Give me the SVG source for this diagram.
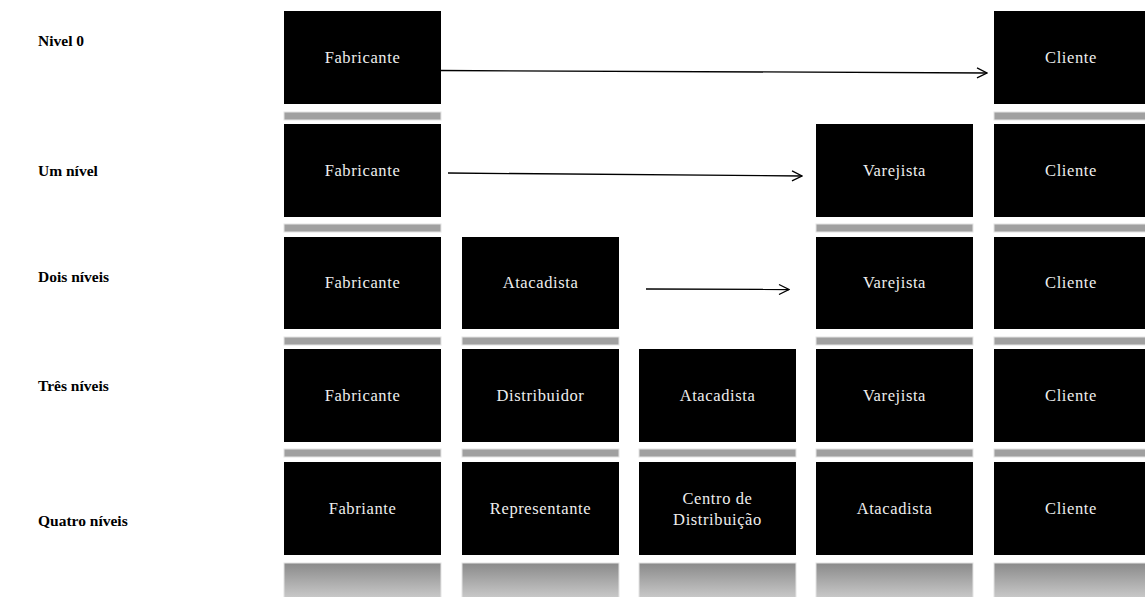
<svg xmlns="http://www.w3.org/2000/svg" width="1145" height="597" viewBox="0 0 1145 597">
  <style>
    .box { fill: #000000; }
    .bar { fill: #a0a0a0; stroke: #e4e4e4; stroke-width: 1; }
    .refl { fill: url(#fade); stroke: #e4e4e4; stroke-width: 1; }
    .t { font-family: "Liberation Serif", "Times New Roman", serif; font-size: 16.5px; letter-spacing: 0.6px; fill: #eeeeee; text-anchor: middle; }
    .lbl { font-family: "Liberation Serif", "Times New Roman", serif; font-size: 15.5px; font-weight: bold; fill: #000000; }
    .link { stroke: #000000; stroke-width: 1.3; fill: none; marker-end: url(#chev); }
  </style>
  <defs>
    <linearGradient id="fade" x1="0" y1="0" x2="0" y2="1">
      <stop offset="0" stop-color="#8a8a8a"/>
      <stop offset="1" stop-color="#d2d2d2"/>
    </linearGradient>
    <marker id="chev" viewBox="0 0 12 12" refX="11" refY="6" markerWidth="12" markerHeight="12" markerUnits="userSpaceOnUse" orient="auto">
      <path d="M1,1 L11,6 L1,11" fill="none" stroke="#000000" stroke-width="1.3"/>
    </marker>
  </defs>

  <rect width="1145" height="597" fill="#ffffff"/>

  <!-- row labels -->
  <g id="labels">
    <text class="lbl" x="38" y="46">Nivel 0</text>
    <text class="lbl" x="38" y="176">Um nível</text>
    <text class="lbl" x="38" y="282">Dois níveis</text>
    <text class="lbl" x="38" y="391">Três níveis</text>
    <text class="lbl" x="38" y="526">Quatro níveis</text>
  </g>

  <!-- shelf bars under each box -->
  <g id="bars">
    <rect class="bar" x="284" y="112" width="157" height="8"/>
    <rect class="bar" x="994" y="112" width="152" height="8"/>

    <rect class="bar" x="284" y="224" width="157" height="8"/>
    <rect class="bar" x="816" y="224" width="157" height="8"/>
    <rect class="bar" x="994" y="224" width="152" height="8"/>

    <rect class="bar" x="284" y="337" width="157" height="8"/>
    <rect class="bar" x="462" y="337" width="157" height="8"/>
    <rect class="bar" x="816" y="337" width="157" height="8"/>
    <rect class="bar" x="994" y="337" width="152" height="8"/>

    <rect class="bar" x="284" y="449" width="157" height="8"/>
    <rect class="bar" x="462" y="449" width="157" height="8"/>
    <rect class="bar" x="639" y="449" width="157" height="8"/>
    <rect class="bar" x="816" y="449" width="157" height="8"/>
    <rect class="bar" x="994" y="449" width="152" height="8"/>

    <rect class="refl" x="284" y="563" width="157" height="40"/>
    <rect class="refl" x="462" y="563" width="157" height="40"/>
    <rect class="refl" x="639" y="563" width="157" height="40"/>
    <rect class="refl" x="816" y="563" width="157" height="40"/>
    <rect class="refl" x="994" y="563" width="152" height="40"/>
  </g>

  <!-- Nivel 0 -->
  <g id="r0-fabricante"><rect class="box" x="284" y="11" width="157" height="93"/><text class="t" x="362.5" y="63">Fabricante</text></g>
  <g id="r0-cliente"><rect class="box" x="994" y="11" width="152" height="93"/><text class="t" x="1071" y="63">Cliente</text></g>

  <!-- Um nível -->
  <g id="r1-fabricante"><rect class="box" x="284" y="124" width="157" height="93"/><text class="t" x="362.5" y="176">Fabricante</text></g>
  <g id="r1-varejista"><rect class="box" x="816" y="124" width="157" height="93"/><text class="t" x="894.5" y="176">Varejista</text></g>
  <g id="r1-cliente"><rect class="box" x="994" y="124" width="152" height="93"/><text class="t" x="1071" y="176">Cliente</text></g>

  <!-- Dois níveis -->
  <g id="r2-fabricante"><rect class="box" x="284" y="237" width="157" height="92"/><text class="t" x="362.5" y="288">Fabricante</text></g>
  <g id="r2-atacadista"><rect class="box" x="462" y="237" width="157" height="92"/><text class="t" x="540.5" y="288">Atacadista</text></g>
  <g id="r2-varejista"><rect class="box" x="816" y="237" width="157" height="92"/><text class="t" x="894.5" y="288">Varejista</text></g>
  <g id="r2-cliente"><rect class="box" x="994" y="237" width="152" height="92"/><text class="t" x="1071" y="288">Cliente</text></g>

  <!-- Três níveis -->
  <g id="r3-fabricante"><rect class="box" x="284" y="349" width="157" height="93"/><text class="t" x="362.5" y="401">Fabricante</text></g>
  <g id="r3-distribuidor"><rect class="box" x="462" y="349" width="157" height="93"/><text class="t" x="540.5" y="401">Distribuidor</text></g>
  <g id="r3-atacadista"><rect class="box" x="639" y="349" width="157" height="93"/><text class="t" x="717.5" y="401">Atacadista</text></g>
  <g id="r3-varejista"><rect class="box" x="816" y="349" width="157" height="93"/><text class="t" x="894.5" y="401">Varejista</text></g>
  <g id="r3-cliente"><rect class="box" x="994" y="349" width="152" height="93"/><text class="t" x="1071" y="401">Cliente</text></g>

  <!-- Quatro níveis -->
  <g id="r4-fabriante"><rect class="box" x="284" y="462" width="157" height="93"/><text class="t" x="362.5" y="514">Fabriante</text></g>
  <g id="r4-representante"><rect class="box" x="462" y="462" width="157" height="93"/><text class="t" x="540.5" y="514">Representante</text></g>
  <g id="r4-centro"><rect class="box" x="639" y="462" width="157" height="93"/><text class="t" x="717.5" y="504">Centro de</text><text class="t" x="717.5" y="525">Distribuição</text></g>
  <g id="r4-atacadista"><rect class="box" x="816" y="462" width="157" height="93"/><text class="t" x="894.5" y="514">Atacadista</text></g>
  <g id="r4-cliente"><rect class="box" x="994" y="462" width="152" height="93"/><text class="t" x="1071" y="514">Cliente</text></g>

  <!-- connectors -->
  <g id="connectors">
    <path class="link" d="M441,70.5 L987,73"/>
    <path class="link" d="M448,173 L802,176"/>
    <path class="link" d="M646,289 L789,289.5"/>
  </g>
</svg>
